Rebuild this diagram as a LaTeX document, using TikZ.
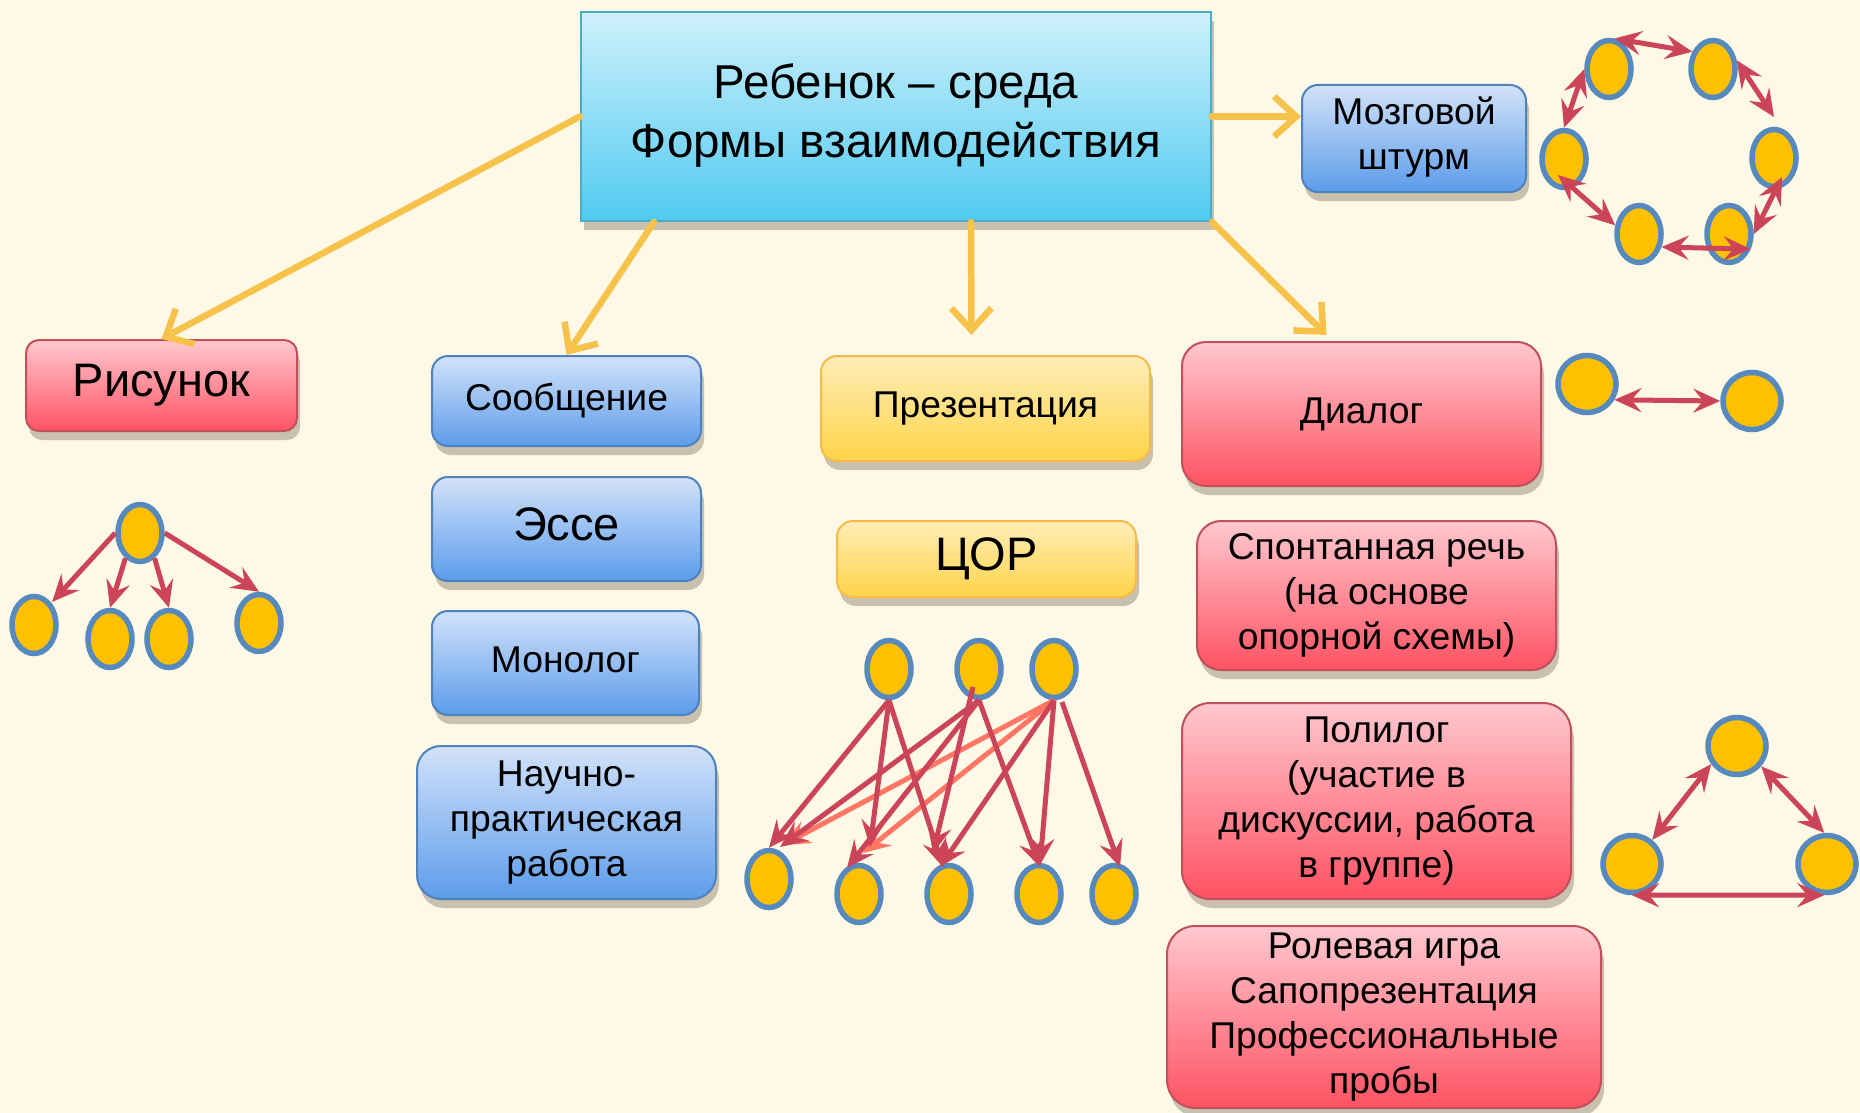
\documentclass[tikz,border=0pt]{standalone}
\usepackage{fontspec}
\setmainfont{Liberation Sans}
\usetikzlibrary{arrows.meta,shadows,calc,shapes.geometric}
\definecolor{bgc}{RGB}{254,248,231}
\definecolor{mainTop}{RGB}{206,240,251}
\definecolor{mainBot}{RGB}{80,202,240}
\definecolor{mainBd}{RGB}{74,172,197}
\definecolor{blueTop}{RGB}{210,226,250}
\definecolor{blueBot}{RGB}{92,156,234}
\definecolor{blueBd}{RGB}{79,129,189}
\definecolor{redTop}{RGB}{255,200,207}
\definecolor{redBot}{RGB}{255,82,98}
\definecolor{redBd}{RGB}{192,80,90}
\definecolor{yelTop}{RGB}{255,237,184}
\definecolor{yelBot}{RGB}{255,212,72}
\definecolor{yelBd}{RGB}{245,186,72}
\definecolor{yarrc}{RGB}{246,194,74}
\definecolor{ellFill}{RGB}{255,192,0}
\definecolor{ellBd}{RGB}{86,138,190}
\definecolor{rarrc}{RGB}{204,68,88}
\definecolor{sarrc}{RGB}{255,118,100}
\definecolor{shadc}{RGB}{95,80,60}
% first row: height = cap height + 0.3 baselineskip, so the capital block is centred in the box
\newcommand\boxtxt[1]{\begin{tabular}[t]{@{}c@{}}\rule{0pt}{\dimexpr0.3\baselineskip+0.716em\relax}#1\end{tabular}}
\begin{document}
\begin{tikzpicture}[x=1pt,y=-1pt,
  box/.style={draw, line width=2pt, rounded corners=16pt, inner sep=0pt,
    text=black, font=\fontsize{37.3}{45}\selectfont,
    drop shadow={shadow xshift=3pt, shadow yshift=-9pt, opacity=0.33, fill=shadc}},
  bigtext/.style={font=\fontsize{47}{56}\selectfont},
  mainbox/.style={box, rounded corners=0pt, draw=mainBd, top color=mainTop, bottom color=mainBot,
    font=\fontsize{47.5}{59}\selectfont},
  bluebox/.style={box, draw=blueBd, top color=blueTop, bottom color=blueBot},
  redbox/.style={box, draw=redBd, top color=redTop, bottom color=redBot},
  yelbox/.style={box, draw=yelBd, top color=yelTop, bottom color=yelBot},
  ell/.style={shape=ellipse, draw=ellBd, line width=5.5pt, fill=ellFill, inner sep=0pt,
    minimum width=44pt, minimum height=57pt},
  circ/.style={ell, minimum width=58pt, minimum height=57pt},
  yarr/.style={draw=yarrc, line width=6.5pt, line cap=round,
    -{Straight Barb[length=22pt,width=40pt,line width=6.5pt]}},
  >={Stealth[length=27pt,width=24pt,inset=10pt]},
  rarr/.style={draw=rarrc, line width=5pt},
  sarr/.style={draw=sarrc, line width=5pt}
]
\useasboundingbox (0,0) rectangle (1860,1113);
\fill[bgc] (0,0) rectangle (1860,1113);

% ---------- boxes ----------
\node[mainbox, minimum width=630pt, minimum height=209pt] (main) at (896,116.5) {\boxtxt{Ребенок – среда\\Формы взаимодействия}};
\node[bluebox, minimum width=224pt, minimum height=107pt] (mozg) at (1414,138.5) {\boxtxt{Мозговой\\штурм}};
\node[redbox, bigtext, rounded corners=13pt, minimum width=271pt, minimum height=91pt] (ris) at (161.5,385.5) {\boxtxt{Рисунок}};
\node[bluebox, minimum width=269pt, minimum height=90pt] (soob) at (566.5,401) {\boxtxt{Сообщение}};
\node[bluebox, bigtext, minimum width=269pt, minimum height=104pt] (esse) at (566.5,529) {\boxtxt{Эссе}};
\node[bluebox, minimum width=267pt, minimum height=104pt] (mono) at (565.5,663) {\boxtxt{Монолог}};
\node[bluebox, rounded corners=24pt, minimum width=299pt, minimum height=153pt] (nauch) at (566.5,822.5) {\boxtxt{Научно-\\практическая\\работа}};
\node[yelbox, minimum width=329pt, minimum height=105pt] (pres) at (985.5,408.5) {\boxtxt{Презентация}};
\node[yelbox, bigtext, minimum width=299pt, minimum height=76pt] (cor) at (986.5,559) {\boxtxt{ЦОР}};
\node[redbox, rounded corners=24pt, minimum width=359pt, minimum height=144pt] (dial) at (1361.5,414) {\boxtxt{Диалог}};
\node[redbox, rounded corners=24pt, minimum width=359pt, minimum height=149pt] (spont) at (1376.5,595.5) {\boxtxt{Спонтанная речь\\(на основе\\опорной схемы)}};
\node[redbox, rounded corners=28pt, minimum width=389pt, minimum height=196pt] (poli) at (1376.5,801) {\boxtxt{Полилог\\(участие в\\дискуссии, работа\\в группе)}};
\node[redbox, rounded corners=28pt, minimum width=434pt, minimum height=182pt] (rol) at (1384,1017) {\boxtxt{Ролевая игра\\Сапопрезентация\\Профессиональные\\пробы}};

% ---------- yellow connectors ----------
\draw[yarr] (main.west) -- (ris.north);
\draw[yarr] ($(main.south west)+(74,0)$) -- (soob.north);
\draw[yarr] ($(main.south)+(75,0)$) -- ($(pres.north)+(-14,-20)$);
\draw[yarr] (main.south east) -- ($(dial.north)+(-35,-6)$);
\draw[yarr] (main.east) -- (mozg.west |- main.east);

% ---------- tree (Рисунок) ----------
\node[ell] (T) at (140,533) {};
\node[ell] (c1) at (34,625) {};
\node[ell] (c2) at (110,639) {};
\node[ell] (c3) at (169,639) {};
\node[ell] (c4) at (259,623) {};
\draw[rarr,->] (T.west) -- ($(c1)+(18,-23)$);
\draw[rarr,->] (T.240) -- (c2.north);
\draw[rarr,->] (T.300) -- (c3.north);
\draw[rarr,->] (T.east) -- (c4.north);

% ---------- ring (Мозговой штурм) ----------
\node[ell] (e1) at (1609,69) {};
\node[ell] (e2) at (1713,69) {};
\node[ell] (e3) at (1564,159) {};
\node[ell] (e4) at (1774,158) {};
\node[ell] (e5) at (1639,234) {};
\node[ell] (e6) at (1729,234) {};
\draw[rarr,<->] (e1.80) -- (e2.140);
\draw[rarr,<->] (e1.west) -- (e3.north);
\draw[rarr,<->] (e2.20) -- ($(e4)+(0,-41)$);
\draw[rarr,<->] ($(e3)+(-6,16)$) -- (e5.160);
\draw[rarr,<->] (e6.east) -- ($(e4)+(8,19)$);
\draw[rarr,<->] (e5.330) -- (e6.325);

% ---------- pair (Диалог) ----------
\node[circ] (d1) at (1587,384) {};
\node[circ] (d2) at (1752,401) {};
\draw[rarr,<->] (d1.330) -- (d2.west);

% ---------- triangle (Полилог) ----------
\node[circ] (p1) at (1737,746) {};
\node[circ] (p2) at (1632,864) {};
\node[circ] (p3) at (1827,864) {};
\draw[rarr,<->] (p1.215) -- (p2.50);
\draw[rarr,<->] (p1.320) -- (p3.95);
\draw[rarr,<->] (p2.270) -- (p3.265);

% ---------- bipartite (ЦОР) ----------
\node[ell] (t1) at (889,669) {};
\node[ell] (t2) at (979,669) {};
\node[ell] (t3) at (1054,669) {};
\node[ell] (b1) at (769,879) {};
\node[ell] (b2) at (859,894) {};
\node[ell] (b3) at (949,894) {};
\node[ell] (b4) at (1039,894) {};
\node[ell] (b5) at (1114,894) {};
\draw[sarr,->] (t3.south) -- ($(b1)+(14,-34)$);
\draw[sarr,->] (t3.south) -- ($(b2)+(4,-41)$);
\draw[rarr,->] (t1.south) -- (b1.north);
\draw[rarr,->] (t1.south) -- ($(b2)+(11,-47)$);
\draw[rarr,->] (t1.south) -- ($(b3)+(-6,-27)$);
\draw[rarr,->] (t2.south) -- ($(b1)+(11,-32)$);
\draw[rarr,->] (t2.south) -- ($(b2)+(-12,-26)$);
\draw[rarr,->] ($(t2)+(-6,18)$) -- ($(b3)+(-16,-41)$);
\draw[rarr,->] (t2.south) -- ($(b4)+(1,-27)$);
\draw[rarr,->] (t3.south) -- ($(b3)+(-9,-27)$);
\draw[rarr,->] (t3.south) -- ($(b4)+(1,-29)$);
\draw[rarr,->] ($(t3)+(8,33)$) -- ($(b5)+(6,-27)$);
\end{tikzpicture}
\end{document}
